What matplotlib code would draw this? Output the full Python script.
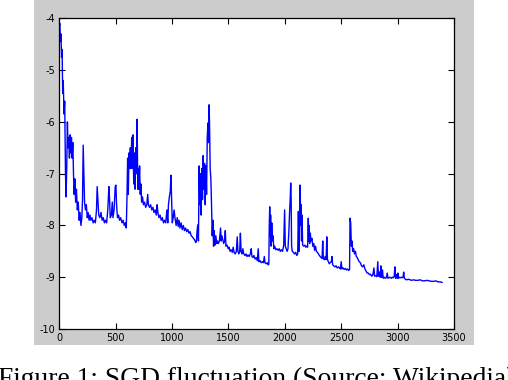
import numpy as np
import matplotlib
matplotlib.use("Agg")
import matplotlib.pyplot as plt
from matplotlib.patches import Rectangle

# SGD loss (log scale), iteration vs value
iters = [
    0, 5, 10, 15, 20, 25, 30, 35, 42, 48, 55, 60, 66, 72, 78, 84, 90, 96, 102, 108,
    114, 120, 126, 132, 138, 145, 152, 160, 168, 176, 184, 192, 200, 206, 212, 218, 224, 232, 240, 248,
    256, 264, 272, 280, 290, 300, 310, 320, 330, 336, 342, 350, 360, 370, 380, 390, 400, 410, 420, 430,
    440, 446, 452, 462, 470, 476, 486, 496, 502, 508, 516, 526, 534, 544, 556, 566, 576, 586, 594, 600,
    606, 612, 618, 624, 630, 636, 642, 648, 654, 660, 666, 672, 678, 684, 690, 696, 702, 706, 712, 718,
    724, 730, 738, 746, 756, 766, 776, 784, 790, 800, 810, 820, 830, 840, 850, 860, 868, 874, 884, 894,
    904, 914, 924, 934, 944, 954, 962, 968, 976, 984, 990, 996, 1002, 1010, 1018, 1026, 1036, 1046, 1054, 1062,
    1070, 1080, 1090, 1100, 1110, 1120, 1130, 1140, 1150, 1160, 1170, 1180, 1190, 1200, 1210, 1216, 1222, 1228, 1234, 1240,
    1246, 1252, 1258, 1264, 1270, 1276, 1282, 1288, 1294, 1300, 1306, 1312, 1318, 1324, 1328, 1332, 1338, 1344, 1350, 1356,
    1362, 1368, 1374, 1380, 1388, 1396, 1404, 1410, 1420, 1430, 1436, 1442, 1450, 1458, 1466, 1472, 1478, 1488, 1498, 1506,
    1514, 1524, 1534, 1542, 1550, 1560, 1570, 1578, 1584, 1592, 1600, 1606, 1612, 1620, 1628, 1636, 1646, 1656, 1664, 1674,
    1684, 1694, 1702, 1708, 1718, 1726, 1736, 1746, 1756, 1764, 1770, 1780, 1790, 1800, 1810, 1818, 1824, 1834, 1844, 1852,
    1858, 1862, 1866, 1870, 1874, 1878, 1884, 1890, 1896, 1902, 1910, 1920, 1930, 1940, 1950, 1960, 1970, 1980, 1990, 1998,
    2004, 2012, 2020, 2028, 2036, 2042, 2048, 2052, 2056, 2060, 2066, 2076, 2086, 2096, 2106, 2114, 2120, 2126, 2132, 2136,
    2140, 2144, 2148, 2152, 2158, 2168, 2178, 2186, 2194, 2202, 2208, 2212, 2216, 2220, 2226, 2232, 2240, 2248, 2256, 2264,
    2272, 2280, 2290, 2298, 2306, 2314, 2322, 2330, 2336, 2342, 2350, 2358, 2366, 2372, 2378, 2386, 2394, 2402, 2412, 2418,
    2424, 2434, 2444, 2454, 2464, 2474, 2484, 2492, 2500, 2506, 2516, 2526, 2536, 2546, 2556, 2566, 2574, 2578, 2584, 2590,
    2596, 2602, 2610, 2618, 2626, 2634, 2642, 2650, 2660, 2670, 2680, 2690, 2700, 2710, 2720, 2730, 2740, 2750, 2760, 2770,
    2780, 2790, 2796, 2806, 2816, 2824, 2830, 2840, 2846, 2852, 2858, 2866, 2872, 2882, 2890, 2900, 2908, 2914, 2924, 2934,
    2944, 2954, 2962, 2970, 2976, 2982, 2990, 2996, 3002, 3008, 3016, 3024, 3032, 3040, 3048, 3054, 3060, 3070, 3080, 3095,
    3110, 3125, 3140, 3160, 3180, 3200, 3220, 3240, 3260, 3280, 3300, 3320, 3340, 3360, 3380, 3394,
]
loss = [
    -4.15, -4.1, -4.45, -4.3, -4.75, -4.6, -5.45, -5.2, -5.85, -5.6, -7.0, -7.45, -6.9, -6.0, -6.5, -6.3, -6.7, -6.25, -6.6, -6.3,
    -6.7, -6.4, -7.0, -7.4, -7.1, -7.55, -7.3, -7.7, -7.55, -7.9, -7.75, -8.0, -7.85, -7.5, -6.45, -7.0, -7.55, -7.7, -7.6, -7.85,
    -7.75, -7.9, -7.8, -7.9, -7.85, -7.95, -7.9, -7.95, -7.7, -7.25, -7.5, -7.8, -7.85, -7.75, -7.9, -7.85, -7.95, -7.9, -7.95, -7.7,
    -7.25, -7.5, -7.85, -7.8, -7.55, -7.85, -7.7, -7.25, -7.22, -7.6, -7.85, -7.8, -7.9, -7.85, -7.95, -7.9, -8.0, -7.95, -8.05, -7.5,
    -6.7, -7.4, -6.6, -6.9, -6.5, -6.9, -6.3, -6.9, -6.25, -7.2, -6.6, -7.3, -6.5, -7.0, -5.95, -7.3, -6.9, -7.3, -6.85, -7.4,
    -7.2, -7.55, -7.45, -7.6, -7.55, -7.65, -7.6, -7.4, -7.6, -7.65, -7.6, -7.7, -7.65, -7.75, -7.7, -7.8, -7.6, -7.75, -7.85, -7.8,
    -7.9, -7.85, -7.95, -7.9, -7.95, -7.7, -7.95, -7.6, -7.45, -7.35, -7.03, -7.5, -7.95, -7.85, -7.7, -7.85, -8.0, -7.85, -8.02, -7.9,
    -8.05, -7.95, -8.08, -8.0, -8.1, -8.05, -8.12, -8.08, -8.15, -8.12, -8.2, -8.22, -8.25, -8.28, -8.33, -8.3, -8.1, -7.99, -8.3, -6.85,
    -7.6, -7.0, -7.8, -6.9, -7.5, -6.65, -7.3, -6.8, -7.6, -6.85, -7.4, -6.3, -6.02, -6.4, -5.67, -6.0, -6.9, -7.1, -7.6, -8.2,
    -7.9, -8.4, -8.1, -8.38, -8.2, -8.35, -8.3, -8.35, -8.3, -8.05, -8.3, -8.2, -8.28, -8.35, -8.3, -8.1, -8.4, -8.38, -8.45, -8.42,
    -8.5, -8.47, -8.52, -8.42, -8.52, -8.55, -8.5, -8.22, -8.5, -8.55, -8.5, -8.15, -8.5, -8.55, -8.45, -8.55, -8.58, -8.55, -8.6, -8.57,
    -8.6, -8.55, -8.45, -8.6, -8.62, -8.58, -8.65, -8.62, -8.68, -8.45, -8.7, -8.68, -8.72, -8.7, -8.72, -8.6, -8.72, -8.74, -8.72, -8.76,
    -8.75, -8.0, -7.64, -8.2, -7.8, -8.4, -7.95, -8.3, -8.2, -8.45, -8.4, -8.47, -8.45, -8.48, -8.45, -8.5, -8.47, -8.5, -8.38, -7.7,
    -8.4, -8.45, -8.5, -8.45, -8.1, -7.75, -7.47, -7.18, -7.5, -8.4, -8.5, -8.52, -8.55, -8.52, -8.58, -8.55, -7.73, -8.5, -7.8, -7.22,
    -8.0, -7.6, -8.3, -7.8, -8.38, -8.4, -8.38, -8.42, -8.4, -8.42, -7.86, -8.3, -8.0, -8.35, -8.15, -8.3, -8.25, -8.4, -8.35, -8.48,
    -8.4, -8.5, -8.52, -8.55, -8.58, -8.6, -8.62, -8.64, -8.3, -8.64, -8.66, -8.6, -8.66, -8.22, -8.66, -8.7, -8.74, -8.72, -8.7, -8.6,
    -8.76, -8.78, -8.8, -8.78, -8.82, -8.8, -8.82, -8.84, -8.7, -8.84, -8.82, -8.85, -8.83, -8.86, -8.84, -8.87, -8.85, -7.86, -7.95, -8.4,
    -8.3, -8.5, -8.45, -8.55, -8.5, -8.6, -8.62, -8.66, -8.7, -8.72, -8.78, -8.8, -8.76, -8.84, -8.88, -8.92, -8.92, -8.95, -8.94, -8.98,
    -8.96, -8.82, -8.98, -8.97, -8.99, -8.7, -8.98, -8.9, -9.0, -8.78, -9.0, -8.86, -9.02, -9.0, -9.02, -9.01, -8.92, -9.02, -9.01, -9.0,
    -9.02, -9.0, -9.01, -8.98, -8.8, -9.02, -8.95, -9.02, -8.92, -9.02, -9.0, -9.01, -9.0, -9.01, -9.0, -8.9, -9.02, -9.04, -9.05, -9.04,
    -9.05, -9.06, -9.05, -9.06, -9.06, -9.05, -9.07, -9.07, -9.06, -9.07, -9.08, -9.08, -9.07, -9.09, -9.09, -9.1,
]

x_ticks = [0, 500, 1000, 1500, 2000, 2500, 3000, 3500]
y_ticks = [-4, -5, -6, -7, -8, -9, -10]
caption = "Figure 1: SGD fluctuation (Source: Wikipedia)"

fig = plt.figure(figsize=(5.08, 3.80), dpi=100, facecolor="white")

# matlab-style grey figure panel, kept behind the axes
fig.patches.append(Rectangle((0.0669, 0.0921), 0.866, 0.92, transform=fig.transFigure,
                             facecolor="#cccccc", edgecolor="none", zorder=-10))

ax = fig.add_axes([0.1167, 0.1342, 0.777, 0.8176])
ax.set_zorder(1)
ax.set_facecolor("white")
ax.plot(iters, loss, color="#0000ff", lw=1.0)

ax.set_xlim(0, 3500)
ax.set_ylim(-10, -4)
ax.set_xticks(x_ticks)
ax.set_yticks(y_ticks)
ax.set_xticklabels([str(t) for t in x_ticks])
ax.set_yticklabels([str(t) for t in y_ticks])
ax.tick_params(direction="in", length=4, width=0.8, top=True, right=True,
               labelsize=7, pad=3, colors="black")
for sp in ax.spines.values():
    sp.set_linewidth(0.9)
    sp.set_color("black")

# caption runs off the right and bottom edges, as in the source page crop
fig.text(-0.003, -0.016, caption, family="Liberation Serif", fontsize=19.8,
         ha="left", va="baseline", color="black")

fig.savefig("out.png", dpi=100, facecolor="white")
